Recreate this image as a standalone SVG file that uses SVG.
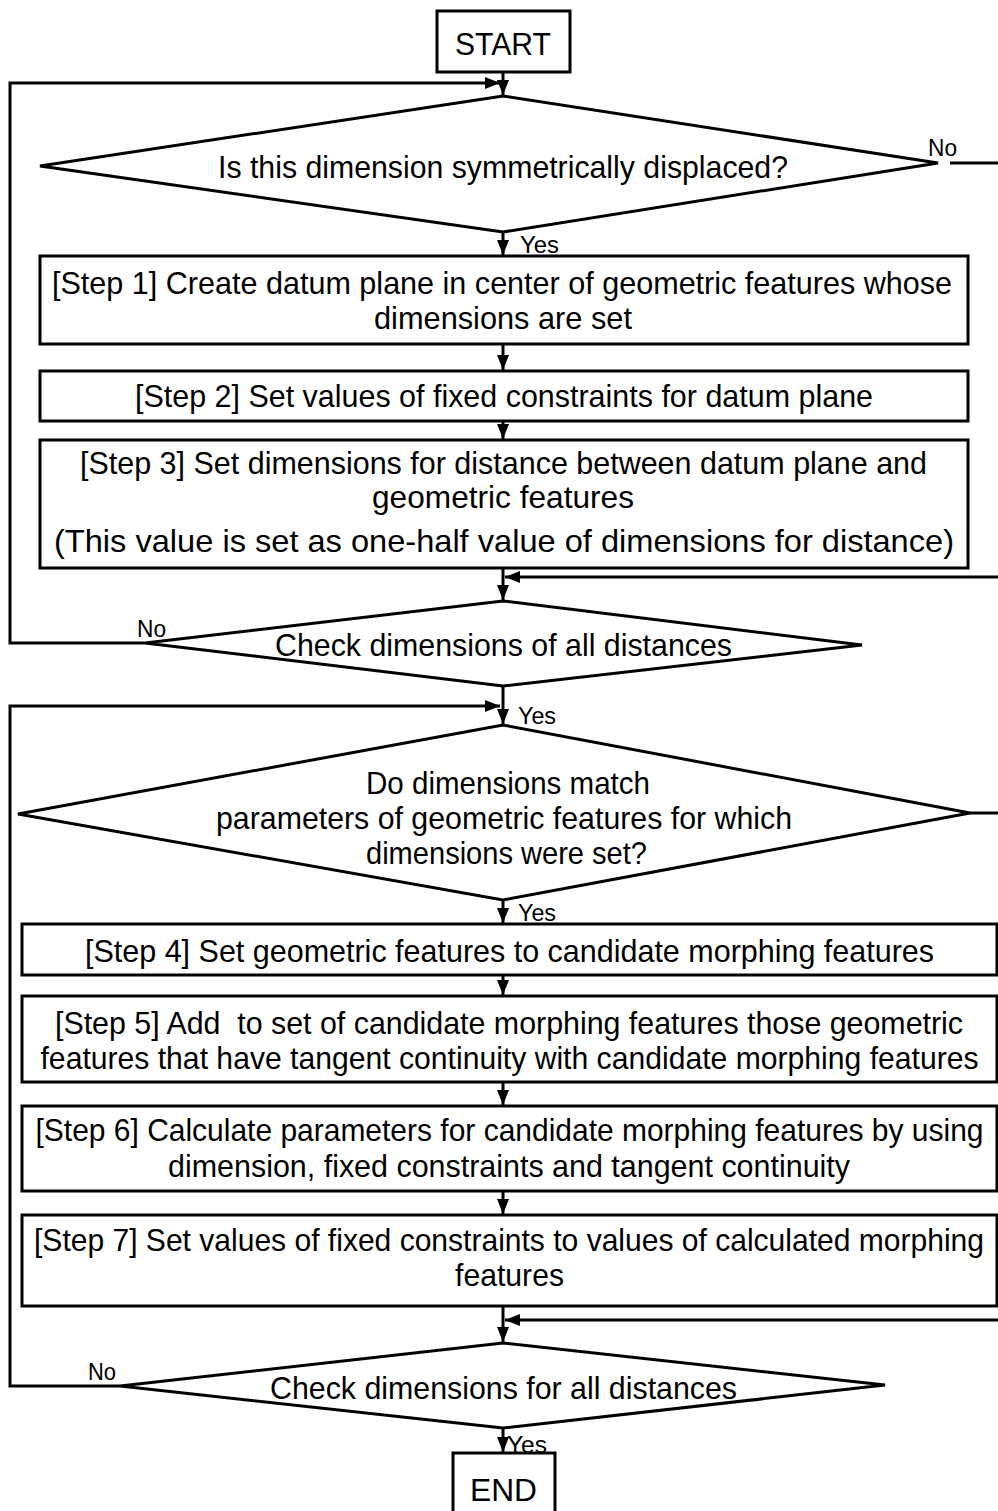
<svg xmlns="http://www.w3.org/2000/svg" width="998" height="1511" viewBox="0 0 998 1511">
  <style>
    .box { fill: #fff; stroke: #000; stroke-width: 3; }
    .ln { fill: none; stroke: #000; stroke-width: 3; }
    text { font-family: "Liberation Sans", Arial, sans-serif; font-size: 32px; fill: #000; white-space: pre; }
    .c { text-anchor: middle; }
    .lbl { font-size: 24px; }
  </style>
  <defs>
    <marker id="arr" markerUnits="userSpaceOnUse" markerWidth="18" markerHeight="14" viewBox="0 0 16 14" refX="15" refY="7" orient="auto">
      <path d="M0,1 L15,7 L0,13 Z" fill="#000"/>
    </marker>
  </defs>

  <!-- flow connectors -->
  <g id="connectors">
    <path class="ln" d="M503,72 V95" marker-end="url(#arr)"/>
    <path class="ln" d="M145,643 H10 V83 H500" marker-end="url(#arr)"/>
    <path class="ln" d="M950,163 H998"/>
    <path class="ln" d="M503,232 V255" marker-end="url(#arr)"/>
    <path class="ln" d="M503,344 V370" marker-end="url(#arr)"/>
    <path class="ln" d="M503,421 V439" marker-end="url(#arr)"/>
    <path class="ln" d="M503,568 V600" marker-end="url(#arr)"/>
    <path class="ln" d="M998,577 H505" marker-end="url(#arr)"/>
    <path class="ln" d="M503,686 V724" marker-end="url(#arr)"/>
    <path class="ln" d="M120,1386 H10 V706 H500" marker-end="url(#arr)"/>
    <path class="ln" d="M970,813 H998"/>
    <path class="ln" d="M503,900 V923" marker-end="url(#arr)"/>
    <path class="ln" d="M503,975 V995" marker-end="url(#arr)"/>
    <path class="ln" d="M503,1082 V1105" marker-end="url(#arr)"/>
    <path class="ln" d="M503,1191 V1214" marker-end="url(#arr)"/>
    <path class="ln" d="M503,1306 V1342" marker-end="url(#arr)"/>
    <path class="ln" d="M998,1320 H505" marker-end="url(#arr)"/>
    <path class="ln" d="M503,1428 V1452" marker-end="url(#arr)"/>
  </g>

  <g id="start">
    <rect class="box" x="437" y="11" width="133" height="61"/>
    <text class="c" x="503" y="55" font-size="34" textLength="96" lengthAdjust="spacingAndGlyphs">START</text>
  </g>

  <g id="decision-symmetric">
    <polygon class="box" points="503,96 938,163 503,232 40,166"/>
    <text class="c" x="503" y="178" textLength="570" lengthAdjust="spacingAndGlyphs">Is this dimension symmetrically displaced?</text>
    <text class="lbl" x="928" y="156" textLength="29" lengthAdjust="spacingAndGlyphs">No</text>
    <text class="lbl" x="520" y="253" textLength="39" lengthAdjust="spacingAndGlyphs">Yes</text>
  </g>

  <g id="step1">
    <rect class="box" x="40" y="256" width="928" height="88"/>
    <text class="c" x="502" y="294" textLength="900" lengthAdjust="spacingAndGlyphs">[Step 1] Create datum plane in center of geometric features whose</text>
    <text class="c" x="503" y="329" textLength="258" lengthAdjust="spacingAndGlyphs">dimensions are set</text>
  </g>

  <g id="step2">
    <rect class="box" x="40" y="371" width="928" height="50"/>
    <text class="c" x="504" y="407" textLength="738" lengthAdjust="spacingAndGlyphs">[Step 2] Set values of fixed constraints for datum plane</text>
  </g>

  <g id="step3">
    <rect class="box" x="40" y="440" width="928" height="128"/>
    <text class="c" x="503.5" y="474" textLength="847" lengthAdjust="spacingAndGlyphs">[Step 3] Set dimensions for distance between datum plane and</text>
    <text class="c" x="503" y="508" textLength="262" lengthAdjust="spacingAndGlyphs">geometric features</text>
    <text class="c" x="504" y="552" textLength="900" lengthAdjust="spacingAndGlyphs">(This value is set as one-half value of dimensions for distance)</text>
  </g>

  <g id="check-distances-1">
    <polygon class="box" points="503,601 862,645 503,686 145,643"/>
    <text class="c" x="503.5" y="656" textLength="457" lengthAdjust="spacingAndGlyphs">Check dimensions of all distances</text>
    <text class="lbl" x="137" y="637" textLength="29" lengthAdjust="spacingAndGlyphs">No</text>
    <text class="lbl" x="518" y="724" textLength="38" lengthAdjust="spacingAndGlyphs">Yes</text>
  </g>

  <g id="decision-parameters">
    <polygon class="box" points="503,725 970,813 503,900 18,814"/>
    <text class="c" x="508" y="794" textLength="284" lengthAdjust="spacingAndGlyphs">Do dimensions match</text>
    <text class="c" x="504" y="829" textLength="576" lengthAdjust="spacingAndGlyphs">parameters of geometric features for which</text>
    <text class="c" x="506.5" y="864" textLength="281" lengthAdjust="spacingAndGlyphs">dimensions were set?</text>
    <text class="lbl" x="518" y="921" textLength="38" lengthAdjust="spacingAndGlyphs">Yes</text>
  </g>

  <g id="step4">
    <rect class="box" x="22" y="924" width="975" height="51"/>
    <text class="c" x="509.5" y="962" textLength="849" lengthAdjust="spacingAndGlyphs">[Step 4] Set geometric features to candidate morphing features</text>
  </g>

  <g id="step5">
    <rect class="box" x="22" y="996" width="975" height="86"/>
    <text class="c" x="509" y="1034" textLength="908" lengthAdjust="spacingAndGlyphs">[Step 5] Add  to set of candidate morphing features those geometric</text>
    <text class="c" x="509.5" y="1069" textLength="938" lengthAdjust="spacingAndGlyphs">features that have tangent continuity with candidate morphing features</text>
  </g>

  <g id="step6">
    <rect class="box" x="22" y="1106" width="975" height="85"/>
    <text class="c" x="509.5" y="1141" textLength="948" lengthAdjust="spacingAndGlyphs">[Step 6] Calculate parameters for candidate morphing features by using</text>
    <text class="c" x="509" y="1177" textLength="682" lengthAdjust="spacingAndGlyphs">dimension, fixed constraints and tangent continuity</text>
  </g>

  <g id="step7">
    <rect class="box" x="22" y="1215" width="975" height="91"/>
    <text class="c" x="509" y="1251" textLength="950" lengthAdjust="spacingAndGlyphs">[Step 7] Set values of fixed constraints to values of calculated morphing</text>
    <text class="c" x="509.5" y="1286" textLength="109" lengthAdjust="spacingAndGlyphs">features</text>
  </g>

  <g id="check-distances-2">
    <polygon class="box" points="503,1343 885,1385 503,1428 120,1386"/>
    <text class="c" x="503.5" y="1399" textLength="467" lengthAdjust="spacingAndGlyphs">Check dimensions for all distances</text>
    <text class="lbl" x="88" y="1380" textLength="28" lengthAdjust="spacingAndGlyphs">No</text>
    <text class="lbl" x="507" y="1453" textLength="40" lengthAdjust="spacingAndGlyphs">Yes</text>
  </g>

  <g id="end">
    <rect class="box" x="453" y="1453" width="102" height="70"/>
    <text class="c" x="503.5" y="1501" font-size="34" textLength="67" lengthAdjust="spacingAndGlyphs">END</text>
  </g>
</svg>
